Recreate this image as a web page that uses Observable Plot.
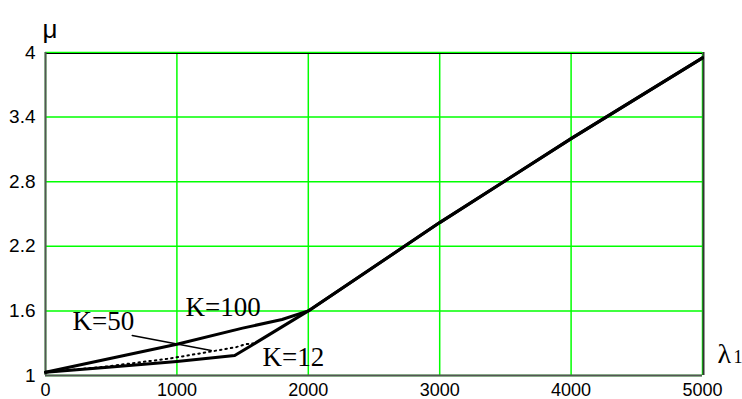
<!DOCTYPE html>
<html><head><meta charset="utf-8">
<script src="https://cdn.jsdelivr.net/npm/d3@7"></script>
<script src="https://cdn.jsdelivr.net/npm/@observablehq/plot@0.6"></script>
<style>body{margin:0;background:#fff;overflow:hidden}</style>
</head><body><div id="chart"></div>
<script>
// Data
const xTicks = [0, 1000, 2000, 3000, 4000, 5000];
const yTicks = [1, 1.6, 2.2, 2.8, 3.4, 4];

const lambdaK100 = [0, 500, 1000, 1500, 1800, 2000, 3000, 4000, 5000];
const muK100     = [1.03, 1.16, 1.29, 1.44, 1.52, 1.6, 2.42, 3.2, 3.95];

const lambdaK12 = [0, 500, 1000, 1440, 2000, 3000, 4000, 5000];
const muK12     = [1.03, 1.08, 1.13, 1.185, 1.6, 2.42, 3.2, 3.95];

const lambdaK50 = [0, 420, 930, 1260, 1450, 1520, 1600];
const muK50     = [1.03, 1.077, 1.155, 1.223, 1.263, 1.29, 1.30];

const labelText   = ["K=100", "K=50", "K=12"];
const labelLambda = [1065, 205, 1651];
const labelMu     = [1.557, 1.427, 1.084];

const pointerLambda = [660, 1261];
const pointerMu     = [1.372, 1.232];

const toRows = (xs, ys) => xs.map((x, i) => ({x, y: ys[i]}));
const k100 = toRows(lambdaK100, muK100);
const k12 = toRows(lambdaK12, muK12);
const k50 = toRows(lambdaK50, muK50);
const labels = labelText.map((t, i) => ({t, x: labelLambda[i], y: labelMu[i]}));
const pointer = toRows(pointerLambda, pointerMu);

const fmt = d => String(d);
const green = "#00ff00";
const sans = "Liberation Sans, Arial, sans-serif";
const narrow = "Liberation Sans Narrow, Arial Narrow, sans-serif";
const serif = "Liberation Serif, Times New Roman, serif";

const chart = Plot.plot({
  width: 742,
  height: 399,
  marginLeft: 45,
  marginRight: 40,
  marginTop: 52,
  marginBottom: 24,
  style: {fontFamily: narrow, fontSize: "18px", background: "#fff", color: "#000"},
  x: {domain: [0, 5000], ticks: xTicks},
  y: {domain: [1, 4], ticks: yTicks},
  marks: [
    Plot.gridX(xTicks, {stroke: green, strokeOpacity: 1, strokeWidth: 1.5}),
    Plot.gridY(yTicks, {stroke: green, strokeOpacity: 1, strokeWidth: 1.5}),
    Plot.ruleX([5000], {stroke: "#333", strokeWidth: 2, dx: 1}),
    Plot.ruleY([4], {stroke: "#000", strokeWidth: 1, dy: 1}),
    Plot.ruleX([0], {stroke: "#555", strokeWidth: 2}),
    Plot.ruleY([1], {stroke: "#555", strokeWidth: 2}),
    Plot.axisX(xTicks, {tickSize: 0, tickPadding: 8, tickFormat: fmt, label: null, fontSize: 18, fontFamily: narrow}),
    Plot.axisY(yTicks, {tickSize: 0, tickPadding: 10, tickFormat: fmt, label: null, fontSize: 19, fontFamily: narrow}),
    Plot.line(k50, {x: "x", y: "y", stroke: "#000", strokeWidth: 2, strokeDasharray: "1.5,4"}),
    Plot.line(k12, {x: "x", y: "y", stroke: "#000", strokeWidth: 3}),
    Plot.line(k100, {x: "x", y: "y", stroke: "#000", strokeWidth: 3}),
    Plot.line(pointer, {x: "x", y: "y", stroke: "#000", strokeWidth: 1.5}),
    Plot.text(labels, {x: "x", y: "y", text: "t", textAnchor: "start", lineAnchor: "bottom",
      fontFamily: serif, fontSize: 27, fill: "#000"}),
    Plot.text(["μ"], {frameAnchor: "top-left", dx: -3, dy: -33, textAnchor: "start",
      fontFamily: sans, fontSize: 26, fill: "#000"}),
    Plot.text(["λ"], {frameAnchor: "bottom-right", dx: 15, dy: -13, textAnchor: "start", lineAnchor: "bottom",
      fontFamily: serif, fontSize: 28, fill: "#000"}),
    Plot.text(["1"], {frameAnchor: "bottom-right", dx: 31, dy: -13, textAnchor: "start", lineAnchor: "bottom",
      fontFamily: serif, fontSize: 18, fill: "#000"})
  ]
});
document.getElementById("chart").append(chart);
</script>
</body></html>
